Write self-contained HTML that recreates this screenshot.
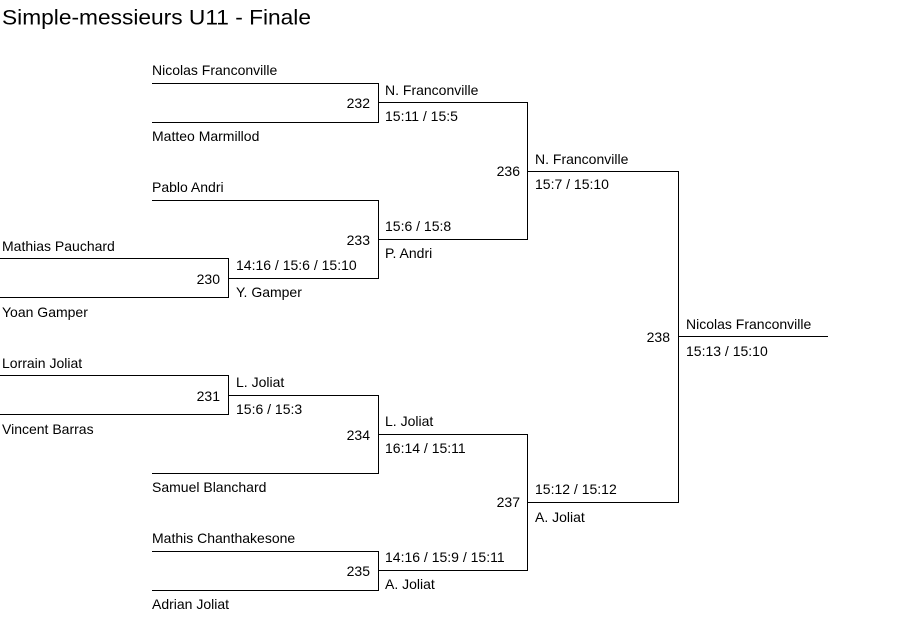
<!DOCTYPE html>
<html><head><meta charset="utf-8"><style>
html,body{margin:0;padding:0;background:#fff;width:903px;height:621px;overflow:hidden}
svg{display:block}
text{font-family:"Liberation Sans",Arial,sans-serif;font-size:14px;fill:#000;dominant-baseline:central}
</style></head><body>
<svg width="903" height="621" viewBox="0 0 903 621" xmlns="http://www.w3.org/2000/svg">
<text x="2" y="18" style="font-size:21px" textLength="309" lengthAdjust="spacingAndGlyphs">Simple-messieurs U11 - Finale</text>
<g stroke="#000" stroke-width="1" fill="none" shape-rendering="crispEdges">
<path d="M152 83.5H378.5V122.5H152"/>
<path d="M378 102.5H527.5V239.5H378"/>
<path d="M152 200.5H378.5V278.5H228"/>
<path d="M0 258.5H228.5V297.5H0"/>
<path d="M527 171.5H678.5V502.5H527"/>
<path d="M678 336.5H828"/>
<path d="M0 375.5H228.5V414.5H0"/>
<path d="M228 395.5H378.5V473.5H152"/>
<path d="M378 434.5H527.5V570.5H378"/>
<path d="M152 551.5H378.5V590.5H152"/>
</g>
<text x="152" y="70">Nicolas Franconville</text>
<text x="152" y="136">Matteo Marmillod</text>
<text x="152" y="187">Pablo Andri</text>
<text x="2" y="246">Mathias Pauchard</text>
<text x="2" y="312">Yoan Gamper</text>
<text x="2" y="363">Lorrain Joliat</text>
<text x="2" y="429">Vincent Barras</text>
<text x="152" y="487">Samuel Blanchard</text>
<text x="152" y="538">Mathis Chanthakesone</text>
<text x="152" y="604">Adrian Joliat</text>
<g text-anchor="end">
<text x="370" y="103">232</text>
<text x="370" y="240">233</text>
<text x="220" y="279">230</text>
<text x="520" y="171">236</text>
<text x="670" y="337">238</text>
<text x="220" y="396">231</text>
<text x="370" y="435">234</text>
<text x="520" y="502">237</text>
<text x="370" y="571">235</text>
</g>
<text x="385" y="90">N. Franconville</text>
<text x="385" y="116">15:11 / 15:5</text>
<text x="385" y="226">15:6 / 15:8</text>
<text x="385" y="253">P. Andri</text>
<text x="236" y="265">14:16 / 15:6 / 15:10</text>
<text x="236" y="292">Y. Gamper</text>
<text x="535" y="159">N. Franconville</text>
<text x="535" y="184">15:7 / 15:10</text>
<text x="686" y="324">Nicolas Franconville</text>
<text x="686" y="351">15:13 / 15:10</text>
<text x="236" y="382">L. Joliat</text>
<text x="236" y="409">15:6 / 15:3</text>
<text x="385" y="421">L. Joliat</text>
<text x="385" y="448">16:14 / 15:11</text>
<text x="535" y="489">15:12 / 15:12</text>
<text x="535" y="517">A. Joliat</text>
<text x="385" y="557">14:16 / 15:9 / 15:11</text>
<text x="385" y="584">A. Joliat</text>
</svg>
</body></html>
